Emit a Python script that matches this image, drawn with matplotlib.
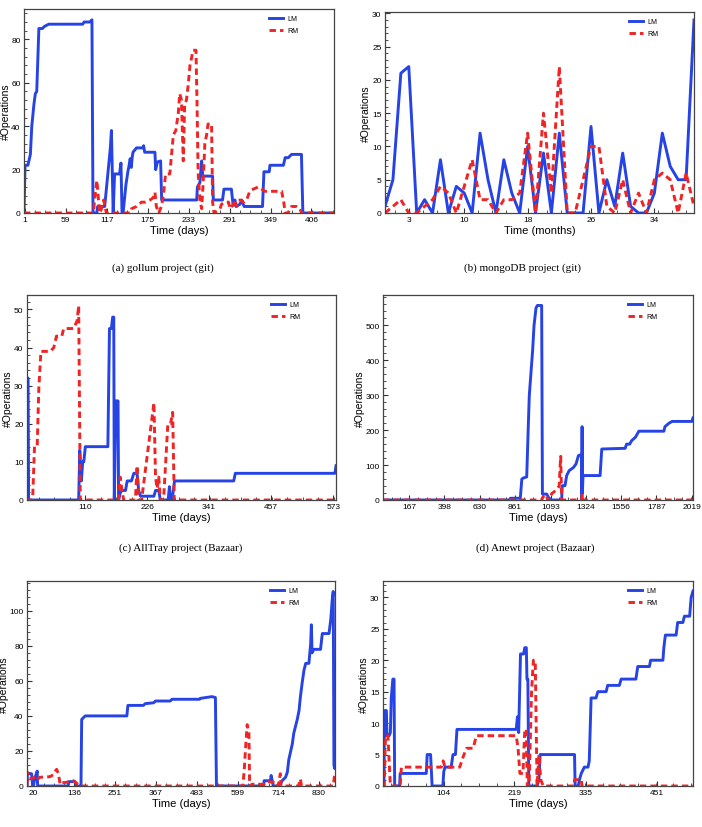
import matplotlib
matplotlib.use('Agg')
import matplotlib.pyplot as plt
from matplotlib.ticker import AutoMinorLocator

plt.rcParams['font.family'] = ['Liberation Sans', 'DejaVu Sans']

# (a) gollum - (day, ops)
gollum_lm = [(0, 0), (1.5, 22), (5.5, 22), (9, 27), (11, 40), (14, 50), (16, 55), (18, 56), (21, 85),
             (26, 85), (29, 86), (35, 87), (83, 87), (85, 88), (93, 88), (96, 89), (97.5, 0), (103, 0),
             (104, 3), (112, 3), (114, 3), (122, 30), (123.5, 38), (126, 0), (128, 18), (135, 18),
             (137, 23), (138.5, 0), (140, 0), (144, 13), (147, 19.5), (148.5, 22), (150, 25), (151.5, 21),
             (153, 26), (154, 28), (159, 30), (168, 30), (169, 31), (170.5, 28), (185, 28), (186, 20),
             (188.5, 23.5), (193, 24), (194.5, 6), (244, 6), (245, 12), (248.5, 14), (251, 24), (252.5, 17),
             (266.5, 17), (267.5, 6), (280.5, 6), (282.5, 11), (293, 11), (295.5, 3.5), (298, 6), (299.5, 3),
             (305, 4), (307.5, 6), (311, 3), (337, 3), (339, 19), (346.5, 19), (347.5, 22), (366.5, 22),
             (369, 25.5), (373.5, 25.5), (378, 27), (392, 27), (394, 0), (438, 0)]
gollum_rm = [(0, 0), (98, 0), (101, 10), (103, 15), (105.5, 5), (107, 0), (109.5, 2), (112.5, 6), (115, 2),
             (116.5, 0), (149.5, 0), (152, 2), (159, 3), (166, 5), (171, 5), (178, 6), (182.5, 7), (185, 9.5),
             (187, 3), (190.5, 0), (194, 3), (197, 8), (200, 18), (206, 18), (211, 36), (214.5, 38), (218, 46),
             (220, 55), (222.5, 52), (225, 24), (227, 50), (229.5, 52), (232, 59), (234.5, 68), (239, 75),
             (243, 75), (244.5, 50), (246, 19), (248.5, 6), (251, 2), (253, 13), (255.5, 32), (258, 36),
             (260, 41), (265, 41), (266.5, 5), (268.5, 0), (277, 2), (279, 4), (284, 5), (289, 5), (291, 2),
             (296, 4), (298, 6), (300.5, 3), (305, 6), (310, 5), (314.5, 6), (319, 10), (324, 11), (331, 12),
             (336, 11), (340, 10), (364, 10), (367, 5), (369, 0), (373, 0), (378, 3), (385, 3), (390, 2),
             (392, 0), (438, 0)]
gollum_ticks = [1, 59, 117, 175, 233, 291, 349, 406]

# (b) mongoDB - one value per month
mongo_lm = [1, 5, 21, 22, 0, 2, 0, 8, 0, 4, 3, 0, 12, 5, 0, 8, 3, 0, 10, 0,
            9, 0, 12, 0, 0, 0, 13, 0, 5, 1, 9, 1, 0, 0, 3, 12, 7, 5, 5, 29]
mongo_rm = [0, 1, 2, 0, 0, 1, 2, 4, 3, 0, 4, 8, 2, 2, 0, 2, 2, 3, 12, 0,
            15, 3, 22, 0, 0, 5, 10, 10, 1, 0, 5, 0, 3, 0, 5, 6, 5, 0, 6, 1]
mongo_ticks = [3, 10, 18, 26, 34]

# (c) AllTray
alltray_lm = [(1, 0), (1.5, 32), (3, 32), (4, 0), (97.5, 0), (99.5, 13), (102.5, 5), (105, 10), (107, 10),
              (110, 14), (152, 14), (155, 45), (158.5, 45), (161, 48), (163, 48), (164, 0), (167, 26),
              (171, 26), (172, 0), (175.5, 2), (178.5, 2.5), (185, 2.5), (188, 5), (196, 5), (200.5, 7),
              (206.5, 7), (209.5, 2.5), (213, 1), (238, 1), (241, 2.5), (247, 2.5), (250, 0), (264.5, 0),
              (267, 3.5), (269, 0), (272, 0), (276.5, 5), (387, 5), (390, 7), (576, 7), (578, 9)]
alltray_rm = [(1, 0), (11.5, 0), (15, 14), (20, 14), (23, 29), (27, 39), (44.5, 39), (51, 40), (56, 43),
              (66, 43), (69.5, 45), (88, 45), (94.5, 47), (97.5, 51), (100.5, 0), (172, 0), (175, 6),
              (178.5, 2.5), (181.5, 0), (203.5, 0), (206.5, 9), (209.5, 0), (215, 0), (238, 25.5), (241, 6),
              (244, 3), (247, 6), (250, 0), (256, 0), (264, 20), (269, 20), (273, 23), (276, 0), (578, 0)]
alltray_ticks = [110, 226, 341, 457, 573]

# (d) Anewt
anewt_lm = [(-5, 0), (828, 0), (830, 5), (895, 5), (905, 60), (915, 63), (937, 66), (948, 220), (954, 300),
            (976, 430), (985, 500), (998, 550), (1007, 557), (1035, 557), (1040, 17), (1068, 17), (1079, 8),
            (1090, 0), (1166, 0), (1170, 41), (1188, 41), (1199, 70), (1215, 84), (1243, 93), (1260, 103),
            (1276, 127), (1296, 130), (1298, 0), (1300, 210), (1302, 20), (1306, 70), (1418, 70), (1429, 146),
            (1582, 148), (1592, 160), (1612, 160), (1625, 170), (1650, 180), (1672, 197), (1836, 197),
            (1843, 210), (1870, 220), (1890, 225), (2020, 225), (2027, 235)]
anewt_rm = [(-5, 0), (1035, 0), (1045, 10), (1065, 15), (1075, 0), (1090, 0), (1100, 18), (1130, 28),
            (1150, 40), (1155, 90), (1160, 125), (1166, 0), (1298, 0), (1300, 15), (1302, 0), (2027, 0)]
anewt_ticks = [167, 398, 630, 861, 1093, 1324, 1556, 1787, 2019]

# (e)
proj5_lm = [(2, 0), (3, 7), (15, 7), (18, 0), (20, 0), (25, 5), (31, 8.5), (32, 0), (119, 0), (120, 2.5),
            (138, 2.5), (143, 0), (155, 0), (157, 38), (167, 40), (285, 40), (288, 46), (332, 46), (337, 47),
            (361, 47.5), (366, 48.5), (408, 48.5), (413, 49.5), (491, 49.5), (493, 50), (526, 51),
            (536, 50.5), (539, 0), (673, 0), (674, 3), (692, 3), (694, 6), (700, 0), (718, 0), (725, 3),
            (735, 5), (740, 8), (744, 15), (754, 24), (758, 30), (768, 38), (773, 43), (777, 51), (782, 59),
            (787, 66), (792, 70), (801, 70), (806, 81), (808, 92), (810, 76), (815, 78), (834, 78), (839, 87),
            (858, 87), (863, 95), (867, 106), (870, 111), (872, 12), (874, 10), (876, 14)]
proj5_rm = [(2, 0), (3, 8), (8, 4), (25, 5), (29, 3.5), (39, 5), (67, 5.3), (77, 6.5), (82, 8.5), (86, 9.5),
            (91, 7), (96, 1), (100, 2), (110, 2), (124, 2.5), (134, 3), (143, 1.5), (152, 0), (614, 0),
            (618, 10), (621, 20), (626, 35), (631, 30), (633, 0), (640, 1), (673, 1), (683, 2.5), (711, 2),
            (714, 0), (720, 7), (722, 0), (772, 0), (775, 3.5), (777, 4), (780, 0), (870, 0), (873, 5), (876, 8)]
proj5_ticks = [20, 136, 251, 367, 483, 599, 714, 830]

# (f)
proj6_lm = [(5, 0), (6.5, 0), (7.5, 12), (10.5, 12), (11.5, 8), (15, 8), (17, 8.5), (18.5, 14), (21, 17),
            (23, 17), (24, 0), (32, 0), (33, 2), (75.5, 2), (77, 5), (82.5, 5), (85, 0), (102.5, 0),
            (104, 2.3), (106, 3), (116, 3), (119, 5), (123, 5), (125.5, 9), (222, 9), (224, 11), (226, 8.5),
            (229, 21), (234, 21), (236, 22), (238.5, 22), (239.5, 17), (241, 17), (242.5, 0), (256, 0),
            (259, 1), (261, 5), (317, 5), (318, 0), (323, 0), (325, 1), (328, 2), (333, 3), (339, 3),
            (341, 4), (344, 14), (352, 14), (355, 15), (368.5, 15), (371, 16), (390, 16), (393, 17),
            (417, 17), (420, 19), (439, 19), (441, 20), (461, 20), (462.5, 22), (465, 24), (482.5, 24),
            (485, 26), (493.5, 26), (496, 27), (504.5, 27), (507, 30), (510, 31)]
proj6_rm = [(5, 0), (7, 0), (9, 8), (13, 8), (17, 0), (33, 0), (35, 3), (100, 3), (103, 4), (106, 3),
            (130, 3), (135, 4.5), (141, 6), (152, 6), (157, 8), (222, 8), (225, 6), (228, 2), (233, 2),
            (236, 9), (238.5, 9), (240, 0), (243, 0), (247, 15), (250, 20), (253, 20), (256, 0), (259, 5),
            (262, 1), (266, 0), (316, 0), (317, 1), (328, 1), (329, 0), (510, 0)]
proj6_ticks = [104, 219, 335, 451]

captions = ['(a) gollum project (git)', '(b) mongoDB project (git)',
            '(c) AllTray project (Bazaar)', '(d) Anewt project (Bazaar)']

W, H = 702, 828
fig = plt.figure(figsize=(W / 100, H / 100), dpi=100)

blue = '#2643e6'
red = '#f02424'


def make_axes(x0, y0, x1, y1):
    # pixel box -> figure fraction
    return fig.add_axes([x0 / W, 1 - y1 / H, (x1 - x0) / W, (y1 - y0) / H])


def draw(ax, lm, rm, xlim, ylim, xticks, yticks, xlabel='Time (days)'):
    if isinstance(lm[0], tuple):
        lx, ly = zip(*lm)
        rx, ry = zip(*rm)
    else:
        # monthly data, one point per month
        lx, ly = list(range(len(lm))), lm
        rx, ry = list(range(len(rm))), rm
    ax.plot(lx, ly, color=blue, lw=2.1, label='LM')
    ax.plot(rx, ry, color=red, lw=2.1, ls=(0, (2.2, 1.4)), label='RM')
    ax.set_xlim(*xlim)
    ax.set_ylim(*ylim)
    ax.set_xticks(xticks)
    ax.set_xticklabels([str(t) for t in xticks])
    ax.set_yticks(yticks)
    ax.xaxis.set_minor_locator(AutoMinorLocator(4))
    ax.yaxis.set_minor_locator(AutoMinorLocator(5))
    ax.tick_params(which='both', direction='in', labelsize=6, color='#333333', pad=2.5)
    ax.tick_params(which='major', length=3.5)
    ax.tick_params(which='minor', length=2)
    for s in ax.spines.values():
        s.set_color('#444444')
        s.set_linewidth(0.9)
    ax.set_xlabel(xlabel, fontsize=8, labelpad=1)
    ax.set_ylabel('#Operations', fontsize=7.5, labelpad=0.5)
    ax.legend(loc='upper right', bbox_to_anchor=(0.905, 1.0), frameon=False, fontsize=5,
              handlelength=2.0, handletextpad=0.6, borderaxespad=0.5, labelspacing=0.7)


ax1 = make_axes(24, 10, 334, 214)
draw(ax1, gollum_lm, gollum_rm, (0, 438), (0, 94), gollum_ticks, [0, 20, 40, 60, 80])

ax2 = make_axes(385, 13, 694, 214)
draw(ax2, mongo_lm, mongo_rm, (0, 39), (0, 30.2), mongo_ticks, [0, 5, 10, 15, 20, 25, 30],
     xlabel='Time (months)')

ax3 = make_axes(27, 296, 336, 501)
draw(ax3, alltray_lm, alltray_rm, (1, 578), (0, 53.8), alltray_ticks, [0, 10, 20, 30, 40, 50])

ax4 = make_axes(383, 296, 693, 501)
draw(ax4, anewt_lm, anewt_rm, (-5, 2027), (0, 587), anewt_ticks, [0, 100, 200, 300, 400, 500])

ax5 = make_axes(27, 582, 335, 787)
draw(ax5, proj5_lm, proj5_rm, (2, 875), (0, 117), proj5_ticks, [0, 20, 40, 60, 80, 100])

ax6 = make_axes(383, 582, 693, 787)
draw(ax6, proj6_lm, proj6_rm, (5, 510), (0, 32.6), proj6_ticks, [0, 5, 10, 15, 20, 25, 30])

# captions under first two rows
cap_pos = [(163, 268), (522, 268), (181, 548), (535, 548)]
for txt, (cx, cy) in zip(captions, cap_pos):
    fig.text(cx / W, 1 - cy / H, txt, ha='center', va='center', fontsize=8,
             family=['Liberation Serif', 'DejaVu Serif'])

fig.savefig('out.png', dpi=100)
